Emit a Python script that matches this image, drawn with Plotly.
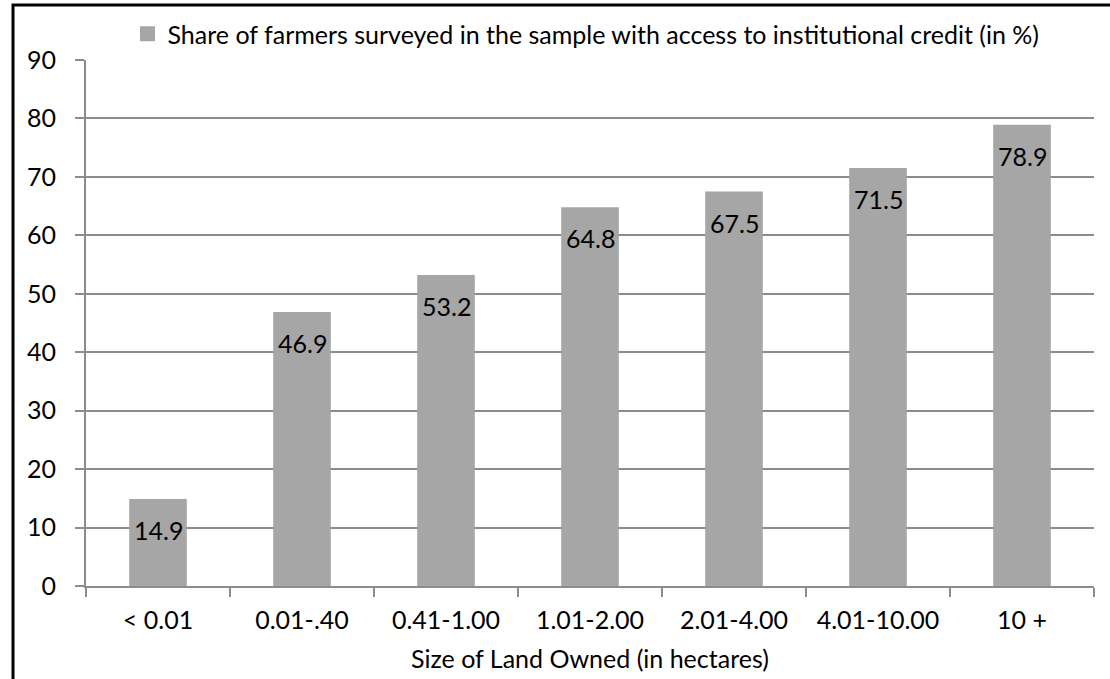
import plotly.graph_objects as go

categories = ["< 0.01", "0.01-.40", "0.41-1.00", "1.01-2.00", "2.01-4.00", "4.01-10.00", "10 +"]
shares = [14.9, 46.9, 53.2, 64.8, 67.5, 71.5, 78.9]
series_name = "Share of farmers surveyed in the sample with access to institutional credit (in %)"
x_title = "Size of Land Owned (in hectares)"
y_ticks = list(range(0, 91, 10))

FONT = "Lato, 'Open Sans', sans-serif"
FS = 25
BAR = "#a6a6a6"
GRID = "#8c8c8c"

W, H = 1110, 679
L, R, T, B = 86, 16, 60, 93
pw, ph = W - L - R, H - T - B

fig = go.Figure()
fig.add_trace(
    go.Bar(
        x=categories,
        y=shares,
        name=series_name,
        marker=dict(color=BAR, line=dict(width=0)),
        width=0.4,
        showlegend=False,
    )
)
# legend entry with a larger square key
fig.add_trace(
    go.Scatter(
        x=[None], y=[None], mode="markers", name=series_name,
        marker=dict(symbol="square", size=15, color=BAR),
        showlegend=True,
    )
)

# value labels sit just inside the top of each bar
for cat, val in zip(categories, shares):
    fig.add_annotation(
        x=cat, y=val, xref="x", yref="y",
        text=f"{val:.1f}", showarrow=False,
        yanchor="middle", yshift=-31,
        font=dict(family=FONT, size=FS, color="black"),
    )

# outer frame around the chart (left and top edges visible, others off-canvas)
fig.add_shape(
    type="rect", xref="paper", yref="paper",
    x0=(13 - L) / pw, x1=(W + 20 - L) / pw,
    y0=-(H + 20 - T - ph) / ph, y1=1 + (T - 5) / ph,
    line=dict(color="black", width=3), fillcolor="rgba(0,0,0,0)", layer="above",
)

fig.update_layout(
    width=W, height=H,
    margin=dict(l=L, r=R, t=T, b=B, autoexpand=False),
    paper_bgcolor="white", plot_bgcolor="white",
    font=dict(family=FONT, size=FS, color="black"),
    bargap=0.6,
    legend=dict(
        orientation="h",
        xref="container", yref="container",
        x=586 / W, xanchor="center", y=1 - 34 / H, yanchor="middle",
        font=dict(family=FONT, size=FS, color="black"),
        bgcolor="rgba(0,0,0,0)", itemwidth=30,
    ),
    xaxis=dict(
        type="category",
        automargin=False,
        showgrid=False,
        showline=True, linecolor=GRID, linewidth=2,
        ticks="outside", tickson="boundaries", ticklen=9, tickwidth=2, tickcolor=GRID,
        tickfont=dict(size=FS),
        ticklabelstandoff=11,
        title=dict(text=x_title, font=dict(size=FS), standoff=17),
    ),
    yaxis=dict(
        range=[0, 90], tickvals=y_ticks,
        automargin=False,
        showgrid=True, gridcolor=GRID, gridwidth=2,
        showline=True, linecolor=GRID, linewidth=2,
        ticks="outside", ticklen=9, tickwidth=2, tickcolor=GRID,
        tickfont=dict(size=FS),
        ticklabelstandoff=14,
        zeroline=False,
    ),
)

fig.write_html("out.html")
